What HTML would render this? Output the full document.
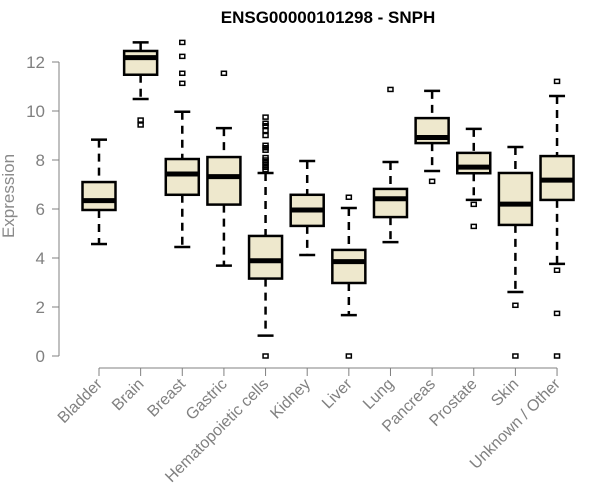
<!DOCTYPE html>
<html><head><meta charset="utf-8"><style>
html,body{margin:0;padding:0;background:#fff;}
svg{display:block;font-family:"Liberation Sans",Arial,sans-serif;}
</style></head><body>
<svg id="chart" width="600" height="500" xmlns="http://www.w3.org/2000/svg">
<text x="328" y="23" text-anchor="middle" font-size="17" font-weight="bold">ENSG00000101298 - SNPH</text>
<text transform="translate(14,196) rotate(-90)" text-anchor="middle" font-size="17" fill="#8a8a8a">Expression</text>
<g id="axes"></g>
<g id="boxes"></g>
</svg>
<script>
const categories=["Bladder","Brain","Breast","Gastric","Hematopoietic cells","Kidney","Liver","Lung","Pancreas","Prostate","Skin","Unknown / Other"];
const whiskerLow=[4.57,10.49,4.45,3.69,0.83,4.12,1.67,4.65,7.55,6.37,2.61,3.76];
const q1=[5.96,11.48,6.58,6.18,3.16,5.31,2.98,5.67,8.69,7.46,5.35,6.37];
const medians=[6.34,12.18,7.43,7.32,3.89,5.96,3.85,6.42,8.92,7.71,6.2,7.18];
const q3=[7.1,12.45,8.04,8.12,4.9,6.58,4.33,6.82,9.71,8.29,7.47,8.16];
const whiskerHigh=[8.83,12.8,9.97,9.3,7.47,7.96,6.04,7.92,10.82,9.27,8.53,10.61];
const outliers=[[],[9.63,9.43],[12.8,12.23,11.54,11.13],[11.54],[0,7.6,7.7,7.8,7.9,8.0,8.1,8.4,8.5,8.6,9.0,9.2,9.4,9.5,9.75],[],[6.48,0],[10.88],[7.13],[6.19,5.29],[2.07,0],[11.21,3.5,1.74,0]];
const yTicks=[0,2,4,6,8,10,12];

const NS="http://www.w3.org/2000/svg";
const y0=356,ppu=24.5;
function yScale(v){return y0-v*ppu;}
function xScale(i){return 99+i*41.64;}
function mk(tag,attrs,parent){const e=document.createElementNS(NS,tag);for(const k in attrs)e.setAttribute(k,attrs[k]);parent.appendChild(e);return e;}
const axes=document.getElementById('axes'),boxes=document.getElementById('boxes');
const grey="#808080";
let yl=mk('line',{x1:59,x2:59,y1:yScale(yTicks[yTicks.length-1]),y2:yScale(yTicks[0]),stroke:grey},axes);


yTicks.forEach(t=>{
  const tk=mk('line',{x1:52,x2:59,y1:yScale(t),y2:yScale(t),stroke:grey},axes);
  
  
  const tx=mk('text',{x:45,y:yScale(t)+6,'text-anchor':'end','font-size':17,fill:grey},axes);
  tx.textContent=t;
  
  
});
let xl=mk('line',{x1:xScale(0),x2:xScale(categories.length-1),y1:368,y2:368,stroke:grey},axes);


categories.forEach((c,i)=>{
  const x=xScale(i);
  const tk=mk('line',{x1:x,x2:x,y1:368,y2:376,stroke:grey},axes);
  
  
  const tx=mk('text',{transform:`translate(${x+4},${385}) rotate(-45)`,'text-anchor':'end','font-size':16,fill:grey},axes);
  tx.textContent=c;
  
  
  const g=mk('g',{},boxes);
  
  
  const hw=16.5,cw=8;
  mk('line',{x1:x,x2:x,y1:yScale(whiskerHigh[i]),y2:yScale(q3[i]),stroke:'#000','stroke-width':2.5,'stroke-dasharray':'8,6'},g);
  mk('line',{x1:x,x2:x,y1:yScale(q1[i]),y2:yScale(whiskerLow[i]),stroke:'#000','stroke-width':2.5,'stroke-dasharray':'8,6'},g);
  mk('line',{x1:x-cw,x2:x+cw,y1:yScale(whiskerHigh[i]),y2:yScale(whiskerHigh[i]),stroke:'#000','stroke-width':2.5},g);
  mk('line',{x1:x-cw,x2:x+cw,y1:yScale(whiskerLow[i]),y2:yScale(whiskerLow[i]),stroke:'#000','stroke-width':2.5},g);
  mk('rect',{x:x-hw,y:yScale(q3[i]),width:2*hw,height:yScale(q1[i])-yScale(q3[i]),fill:'#EEE8CD',stroke:'#000','stroke-width':2.5},g);
  mk('line',{x1:x-hw,x2:x+hw,y1:yScale(medians[i]),y2:yScale(medians[i]),stroke:'#000','stroke-width':5},g);
  outliers[i].forEach(v=>{
    const p=mk('rect',{x:x-2.5,y:yScale(v)-2,width:5,height:4,fill:'none',stroke:'#000','stroke-width':1.5},g);
    
    
  });
});
</script>
</body></html>
